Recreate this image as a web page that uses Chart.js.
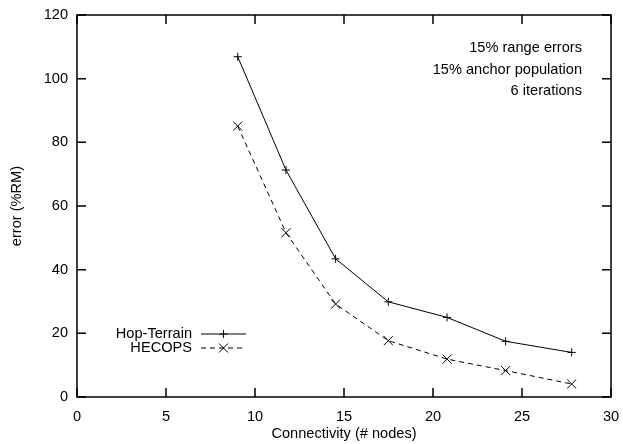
<!DOCTYPE html>
<html>
<head>
<meta charset="utf-8">
<script src="https://cdn.jsdelivr.net/npm/chart.js@4/dist/chart.umd.min.js"></script>
<style>
  html, body { margin: 0; padding: 0; background: #fff; }
  #wrap { width: 623px; height: 444px; }
</style>
</head>
<body>
<div id="wrap"><canvas id="chart"></canvas></div>
<script>
// values
const connectivity = [9.03, 11.74, 14.53, 17.49, 20.79, 24.08, 27.79];
const hopTerrain = [106.9, 71.3, 43.4, 29.9, 25.0, 17.5, 14.0];
const hecops = [85.1, 51.6, 29.2, 17.7, 11.9, 8.3, 4.1];
const xTicks = [0, 5, 10, 15, 20, 25, 30];
const yTicks = [0, 20, 40, 60, 80, 100, 120];
const notes = ['15% range errors', '15% anchor population', '6 iterations'];

const FONT = 'Liberation Sans, Arial, sans-serif';
const FSIZE = 14.6;

const toPoints = function (xs, ys) {
  var pts = [];
  for (var n = 0; n < xs.length; n++) {
    pts.push({ x: xs[n], y: ys[n] });
  }
  return pts;
};

// gnuplot style frame, inward ticks, notes and legend
const framePlugin = {
  id: 'frame',
  afterDraw: function (chart) {
    var ctx = chart.ctx;
    var a = chart.chartArea;
    var xs = chart.scales.x;
    var ys = chart.scales.y;
    var tl = 9;
    ctx.save();
    ctx.strokeStyle = '#000';
    ctx.lineWidth = 1.5;
    ctx.strokeRect(a.left, a.top, a.right - a.left, a.bottom - a.top);
    ctx.beginPath();
    xTicks.forEach(function (v) {
      var px = xs.getPixelForValue(v);
      ctx.moveTo(px, a.bottom); ctx.lineTo(px, a.bottom - tl);
      ctx.moveTo(px, a.top); ctx.lineTo(px, a.top + tl);
    });
    yTicks.forEach(function (v) {
      var py = ys.getPixelForValue(v);
      ctx.moveTo(a.left, py); ctx.lineTo(a.left + tl, py);
      ctx.moveTo(a.right, py); ctx.lineTo(a.right - tl, py);
    });
    ctx.stroke();

    ctx.fillStyle = '#000';
    ctx.font = FSIZE + 'px ' + FONT;
    ctx.textAlign = 'right';
    ctx.textBaseline = 'middle';
    notes.forEach(function (t, i) {
      ctx.fillText(t, a.right - 29, a.top + 33 + i * 21.7);
    });

    // legend
    var items = [
      { label: 'Hop-Terrain', dash: [], style: 'plus' },
      { label: 'HECOPS', dash: [5, 4], style: 'x' }
    ];
    items.forEach(function (it, i) {
      var y = 334 + i * 14;
      ctx.textAlign = 'right';
      ctx.fillText(it.label, 192, y);
      ctx.lineWidth = 1;
      ctx.setLineDash(it.dash);
      ctx.beginPath();
      ctx.moveTo(201, y); ctx.lineTo(246, y);
      ctx.stroke();
      ctx.setLineDash([]);
      ctx.beginPath();
      var mx = 223.5;
      if (it.style == 'plus') {
        ctx.moveTo(mx - 4, y); ctx.lineTo(mx + 4, y);
        ctx.moveTo(mx, y - 4); ctx.lineTo(mx, y + 4);
      } else {
        ctx.moveTo(mx - 4.5, y - 4.5); ctx.lineTo(mx + 4.5, y + 4.5);
        ctx.moveTo(mx - 4.5, y + 4.5); ctx.lineTo(mx + 4.5, y - 4.5);
      }
      ctx.stroke();
    });
    ctx.restore();
  }
};

var config = {
  type: 'line',
  data: {
    datasets: [
      {
        label: 'Hop-Terrain',
        data: toPoints(connectivity, hopTerrain),
        borderColor: '#000',
        borderWidth: 1,
        pointStyle: 'cross',
        pointRadius: 4,
        pointBorderWidth: 1,
        pointBorderColor: '#000',
        fill: false,
        tension: 0
      },
      {
        label: 'HECOPS',
        data: toPoints(connectivity, hecops),
        borderColor: '#000',
        borderWidth: 1,
        borderDash: [5, 4],
        pointStyle: 'crossRot',
        pointRadius: 6.4,
        pointBorderWidth: 1,
        pointBorderColor: '#000',
        fill: false,
        tension: 0
      }
    ]
  },
  options: {
    responsive: true,
    maintainAspectRatio: false,
    animation: false,
    layout: { padding: { top: 15, right: 12, left: 0, bottom: 0 } },
    plugins: {
      legend: { display: false },
      tooltip: { enabled: false }
    },
    scales: {
      x: {
        type: 'linear',
        min: 0,
        max: 30,
        afterFit: function (s) {
          s.height = 47;
          s.paddingLeft = 0;
          s.paddingRight = 0;
        },
        afterBuildTicks: function (s) { s.ticks = xTicks.map(function (v) { return { value: v }; }); },
        grid: { display: false, tickLength: 0 },
        border: { display: false },
        ticks: { color: '#000', padding: 11, maxRotation: 0, font: { family: FONT, size: FSIZE } },
        title: {
          display: true,
          text: 'Connectivity (# nodes)',
          color: '#000',
          padding: { top: 0, bottom: 1 },
          font: { family: FONT, size: FSIZE }
        }
      },
      y: {
        type: 'linear',
        min: 0,
        max: 120,
        afterFit: function (s) {
          s.width = 77;
          s.paddingTop = 0;
          s.paddingBottom = 0;
        },
        afterBuildTicks: function (s) { s.ticks = yTicks.map(function (v) { return { value: v }; }); },
        grid: { display: false, tickLength: 0 },
        border: { display: false },
        ticks: { color: '#000', padding: 9, font: { family: FONT, size: FSIZE } },
        title: {
          display: true,
          text: 'error (%RM)',
          color: '#000',
          padding: { top: 8, bottom: 0 },
          font: { family: FONT, size: FSIZE }
        }
      }
    }
  },
  plugins: [framePlugin]
};

new Chart(document.getElementById('chart').getContext('2d'), config);
</script>
</body>
</html>
